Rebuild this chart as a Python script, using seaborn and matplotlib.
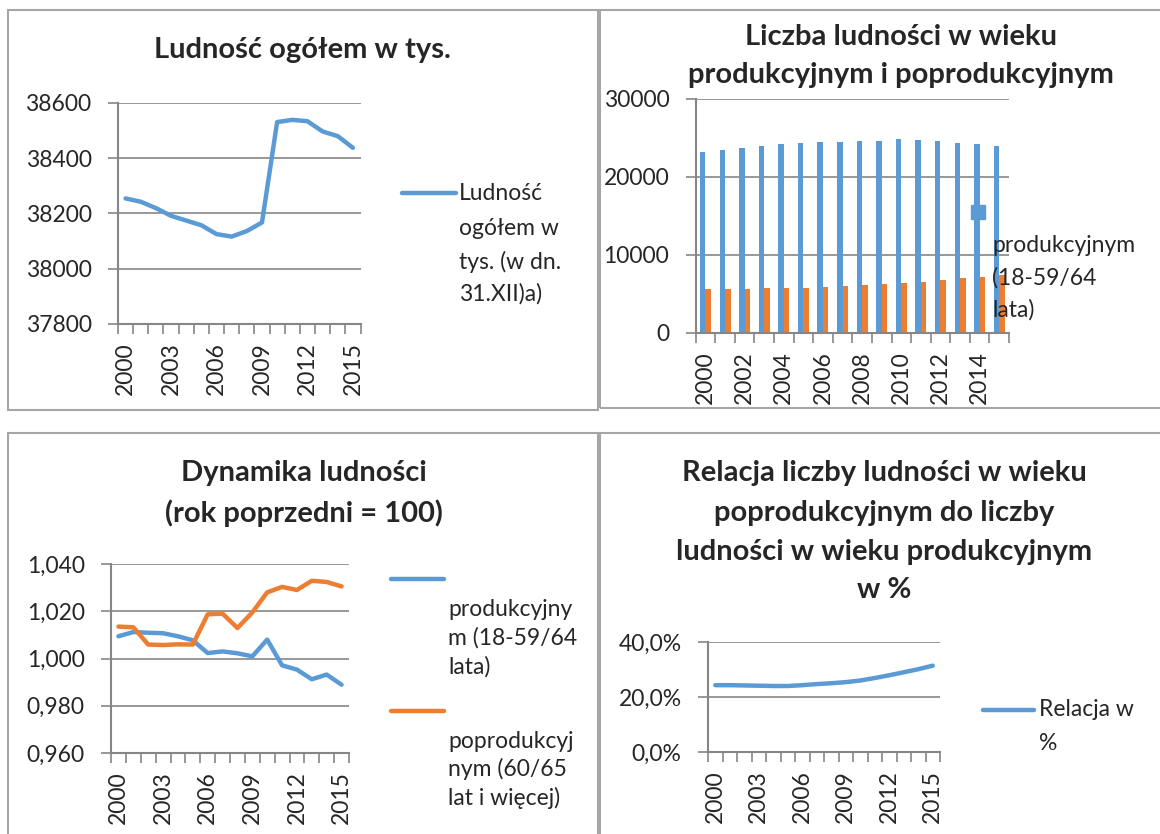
import numpy as np
import pandas as pd
import matplotlib
matplotlib.use('Agg')
import matplotlib.pyplot as plt
import seaborn as sns
from matplotlib.lines import Line2D
from matplotlib.patches import Rectangle

# dane
lata = list(range(2000, 2016))
ludnosc = [38254, 38242, 38219, 38191, 38174, 38157, 38125, 38116,
           38136, 38167, 38530, 38538, 38533, 38496, 38479, 38437]
produkcyjny = [23260, 23470, 23770, 24030, 24240, 24410, 24450, 24540,
               24580, 24630, 24840, 24750, 24630, 24410, 24240, 23990]
poprodukcyjny = [5590, 5680, 5680, 5720, 5760, 5800, 5930, 6060,
                 6100, 6230, 6440, 6570, 6790, 7040, 7210, 7470]
dyn_prod = [1.0094, 1.0112, 1.0109, 1.0107, 1.0094, 1.0077, 1.0023, 1.0030,
            1.0022, 1.0009, 1.0080, 0.9971, 0.9953, 0.9912, 0.9932, 0.9889]
dyn_poprod = [1.0135, 1.0132, 1.0059, 1.0057, 1.0060, 1.0059, 1.0187, 1.0190,
              1.0129, 1.0195, 1.0280, 1.0303, 1.0290, 1.0329, 1.0324, 1.0305]
relacja = [24.3, 24.3, 24.2, 24.1, 24.0, 24.0, 24.3, 24.7,
           25.0, 25.4, 26.0, 26.9, 27.9, 29.0, 30.1, 31.4]

y1_ticks = [37800, 38000, 38200, 38400, 38600]
y2_ticks = [0, 10000, 20000, 30000]
y3_ticks = [0.96, 0.98, 1.00, 1.02, 1.04]
y3_labels = ['0,960', '0,980', '1,000', '1,020', '1,040']
y4_ticks = [0, 20, 40]
y4_labels = ['0,0%', '20,0%', '40,0%']

NIEBIESKI = '#5B9BD5'
POMARANCZ = '#ED7D31'
SZARY = '#868686'

sns.set_style('white')
plt.rcParams['font.family'] = ['Lato', 'DejaVu Sans']

W, H = 1160, 834
fig = plt.figure(figsize=(W / 100, H / 100), dpi=100)
TYTUL = 21


def px_axes(x0, y0, x1, y1):
    return fig.add_axes([x0 / W, 1 - y1 / H, (x1 - x0) / W, (y1 - y0) / H])


def napis(x, y, s, **kw):
    fig.text(x / W, 1 - y / H, s, va='center', **kw)


def ramka(x0, y0, x1, y1):
    fig.add_artist(Rectangle((x0 / W, 1 - y1 / H), (x1 - x0) / W, (y1 - y0) / H,
                             transform=fig.transFigure, fill=False,
                             edgecolor='#A6A6A6', lw=1.5))


def linia_leg(x0, x1, y, kolor):
    fig.add_artist(Line2D([x0 / W, x1 / W], [1 - y / H, 1 - y / H],
                          transform=fig.transFigure, color=kolor, lw=3.2,
                          solid_capstyle='round'))


def styl(ax, yt, ylab, pozycje, etykiety, granice):
    ax.set_ylim(yt[0], yt[-1])
    ax.set_yticks(yt)
    ax.set_yticklabels(ylab)
    ax.set_xticks(pozycje)
    ax.set_xticklabels(etykiety, rotation=90)
    ax.set_xticks(granice, minor=True)
    ax.set_xlim(granice[0], granice[-1])
    ax.grid(axis='y', color=SZARY, lw=1.2)
    ax.grid(axis='x', visible=False)
    ax.set_axisbelow(True)
    for s in ['top', 'right']:
        ax.spines[s].set_visible(False)
    for s in ['left', 'bottom']:
        ax.spines[s].set_color(SZARY)
        ax.spines[s].set_linewidth(1.5)
    ax.tick_params(axis='y', length=7, width=1.2, color=SZARY, pad=12,
                   labelsize=16.5, left=True)
    ax.tick_params(axis='x', which='major', length=0, pad=13, labelsize=16.5)
    ax.tick_params(axis='x', which='minor', length=7, width=1.2, color=SZARY,
                   bottom=True)
    ax.set_xlabel('')
    ax.set_ylabel('')


# ramki paneli
ramka(7.5, 10, 598, 410)
ramka(600, 10, 1170, 408)
ramka(7.5, 433, 598, 845)
ramka(600, 433, 1170, 845)

granice_lat = [r - 0.5 for r in lata] + [lata[-1] + 0.5]

# 1. Ludność ogółem
ax1 = px_axes(118, 102.7, 360.5, 324)
sns.lineplot(x=lata, y=ludnosc, ax=ax1, color=NIEBIESKI, lw=3.2)
styl(ax1, y1_ticks, [str(v) for v in y1_ticks], lata[::3],
     [str(r) for r in lata[::3]], granice_lat)
napis(302, 50, 'Ludność ogółem w tys.', ha='center', fontsize=TYTUL,
      fontweight='bold')
linia_leg(402, 456, 193, NIEBIESKI)
for y, s in zip([193, 228, 262, 294],
                ['Ludność', 'ogółem w', 'tys. (w dn.', '31.XII)a)']):
    napis(459, y, s, fontsize=16.5)

# 2. Liczba ludności w wieku produkcyjnym i poprodukcyjnym
ax2 = px_axes(695.7, 99, 1009, 333)
df = pd.DataFrame({'rok': lata * 2,
                   'liczba': produkcyjny + poprodukcyjny,
                   'grupa': ['produkcyjny'] * len(lata) + ['poprodukcyjny'] * len(lata)})
sns.barplot(data=df, x='rok', y='liczba', hue='grupa',
            palette=[NIEBIESKI, POMARANCZ], width=0.56, saturation=1,
            linewidth=0, legend=False, ax=ax2)
idx = np.arange(len(lata))
styl(ax2, y2_ticks, [str(v) for v in y2_ticks], idx[::2],
     [str(r) for r in lata[::2]], np.arange(-0.5, len(lata), 1.0))
for y, s in zip([37, 75], ['Liczba ludności w wieku',
                           'produkcyjnym i poprodukcyjnym']):
    napis(901, y, s, ha='center', fontsize=TYTUL, fontweight='bold')
fig.add_artist(Line2D([978 / W], [1 - 212 / H], transform=fig.transFigure,
                      marker='s', markersize=10.5, color=NIEBIESKI, lw=0))
for y, s in zip([245, 278, 310], ['produkcyjnym', '(18-59/64', 'lata)']):
    napis(992, y, s, fontsize=16.5)

# 3. Dynamika ludności
ax3 = px_axes(111, 564, 349, 753)
sns.lineplot(x=lata, y=dyn_prod, ax=ax3, color=NIEBIESKI, lw=3.2)
sns.lineplot(x=lata, y=dyn_poprod, ax=ax3, color=POMARANCZ, lw=3.2)
styl(ax3, y3_ticks, y3_labels, lata[::3], [str(r) for r in lata[::3]],
     granice_lat)
for y, s in zip([473, 513], ['Dynamika ludności', '(rok poprzedni = 100)']):
    napis(304, y, s, ha='center', fontsize=TYTUL, fontweight='bold')
linia_leg(391, 444, 579, NIEBIESKI)
for y, s in zip([609, 638, 667], ['produkcyjny', 'm (18-59/64', 'lata)']):
    napis(448, y, s, fontsize=16.5)
linia_leg(391, 444, 711, POMARANCZ)
for y, s in zip([741, 769, 798], ['poprodukcyj', 'nym (60/65', 'lat i więcej)']):
    napis(448, y, s, fontsize=16.5)

# 4. Relacja
ax4 = px_axes(708, 642, 940, 752)
sns.lineplot(x=lata, y=relacja, ax=ax4, color=NIEBIESKI, lw=3.2)
styl(ax4, y4_ticks, y4_labels, lata[::3], [str(r) for r in lata[::3]],
     granice_lat)
for y, s in zip([473, 513, 552, 590],
                ['Relacja liczby ludności w wieku', 'poprodukcyjnym do liczby',
                 'ludności w wieku produkcyjnym', 'w %']):
    napis(884, y, s, ha='center', fontsize=TYTUL, fontweight='bold')
linia_leg(983, 1034, 710, NIEBIESKI)
for y, s in zip([710, 743], ['Relacja w', '%']):
    napis(1039, y, s, fontsize=16.5)

fig.savefig('out.png', dpi=100)
